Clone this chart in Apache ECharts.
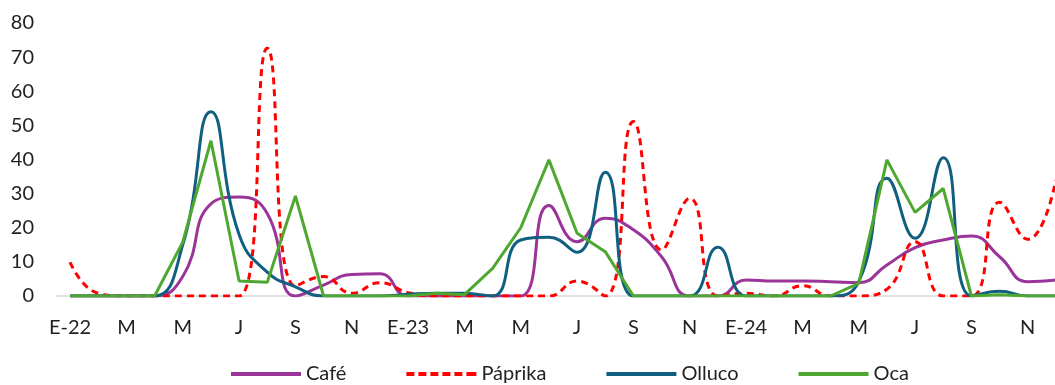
<!DOCTYPE html>
<html>
<head>
<meta charset="utf-8">
<script src="https://cdn.jsdelivr.net/npm/echarts@6/dist/echarts.min.js"></script>
<style>
  html, body { margin: 0; padding: 0; background: #fff; overflow: hidden; }
  #chart { width: 1070px; height: 385px; }
</style>
</head>
<body>
<div id="chart"></div>
<script>
// meses ene-2022 .. dic-2024
const meses = [
  'E-22','F','M','A','M','J','J','A','S','O','N','D',
  'E-23','F','M','A','M','J','J','A','S','O','N','D',
  'E-24','F','M','A','M','J','J','A','S','O','N','D'
];

const cafe = [
  0, 0, 0, 0, 5.7, 27, 29, 24.2, 0, 3.2, 6.3, 6.5,
  0, 0, 0, 0, 0, 26.5, 15.9, 22.8, 19.4, 11.5, 0, 0,
  4.7, 4.4, 4.4, 4.2, 3.9, 9.1, 14.2, 16.4, 17.6, 11.5, 4.2, 4.7
];

const paprika = [
  9.9, 0.8, 0, 0, 0, 0, 0, 72.6, 2.9, 5.7, 0.8, 3.9,
  1, 0, 0, 0, 0, 0, 4.4, 0, 51.1, 13.5, 28.6, 0,
  0.8, 0, 3, 0, 0, 2, 15.9, 0, 0, 27.5, 16.6, 34
];

const olluco = [
  0, 0, 0, 0, 15, 54, 18, 7, 2.7, 0, 0, 0,
  0.5, 0.8, 0.8, 0, 16.4, 17.2, 12.8, 36.3, 0, 0, 0, 14.3,
  0, 0, 0, 0, 4.2, 34.5, 16.9, 40.5, 0, 1.4, 0, 0
];

const oca = [
  0, 0, 0, 0, 15.8, 45.5, 4.4, 4, 29.3, 0, 0, 0,
  0, 0.8, 0.4, 8.1, 20, 39.9, 18.4, 13, 0, 0, 0, 0,
  0, 0, 0, 0, 3.7, 39.9, 24.5, 31.5, 0, 0.4, 0, 0
];

const colores = {
  cafe: '#9B3499',
  paprika: '#FF0000',
  olluco: '#105F7E',
  oca: '#4EA72E'
};

const fuente = 'Lato, "Liberation Sans", sans-serif';

// iconos de la leyenda: linea continua y linea discontinua
const iconoLinea = 'path://M0,0h70v4h-70z';
const iconoGuiones = 'path://M0,0h8v4h-8z M12,0h8v4h-8z M24,0h8v4h-8z M36,0h8v4h-8z M48,0h8v4h-8z M60,0h8v4h-8z M68,0h2v4h-2z';

var dom = document.getElementById('chart');
var myChart = echarts.init(dom, null, { renderer: 'canvas' });

function serie(nombre, datos, color, suave, tipo) {
  return {
    name: nombre,
    type: 'line',
    data: datos,
    smooth: suave,
    symbol: 'none',
    lineStyle: { color: color, width: 3, type: tipo || 'solid' },
    itemStyle: { color: color }
  };
}

var option = {
  animation: false,
  grid: {
    left: 56,
    right: 0,
    top: 23,
    bottom: 89
  },
  legend: {
    top: 359,
    left: 226,
    itemWidth: 70,
    itemHeight: 4,
    itemGap: 60,
    textStyle: { fontFamily: fuente, fontSize: 20, color: '#222' },
    data: [
      { name: 'Café', icon: iconoLinea },
      { name: 'Páprika', icon: iconoGuiones },
      { name: 'Olluco', icon: iconoLinea },
      { name: 'Oca', icon: iconoLinea }
    ]
  },
  xAxis: {
    type: 'category',
    data: meses,
    boundaryGap: true,
    axisLine: { lineStyle: { color: '#d9d9d9', width: 1.5 } },
    axisTick: { show: false },
    axisLabel: {
      interval: 1,
      margin: 22,
      fontFamily: fuente,
      fontSize: 20,
      color: '#222'
    }
  },
  yAxis: {
    type: 'value',
    min: 0,
    max: 80,
    interval: 10,
    splitLine: { show: false },
    axisLine: { show: false },
    axisTick: { show: false },
    axisLabel: {
      margin: 22,
      fontFamily: fuente,
      fontSize: 20,
      color: '#222'
    }
  },
  series: [
    serie('Café', cafe, colores.cafe, 0.5),
    serie('Páprika', paprika, colores.paprika, 0.5, [7, 5]),
    serie('Olluco', olluco, colores.olluco, 0.5),
    serie('Oca', oca, colores.oca, false)
  ]
};

myChart.setOption(option);
</script>
</body>
</html>
